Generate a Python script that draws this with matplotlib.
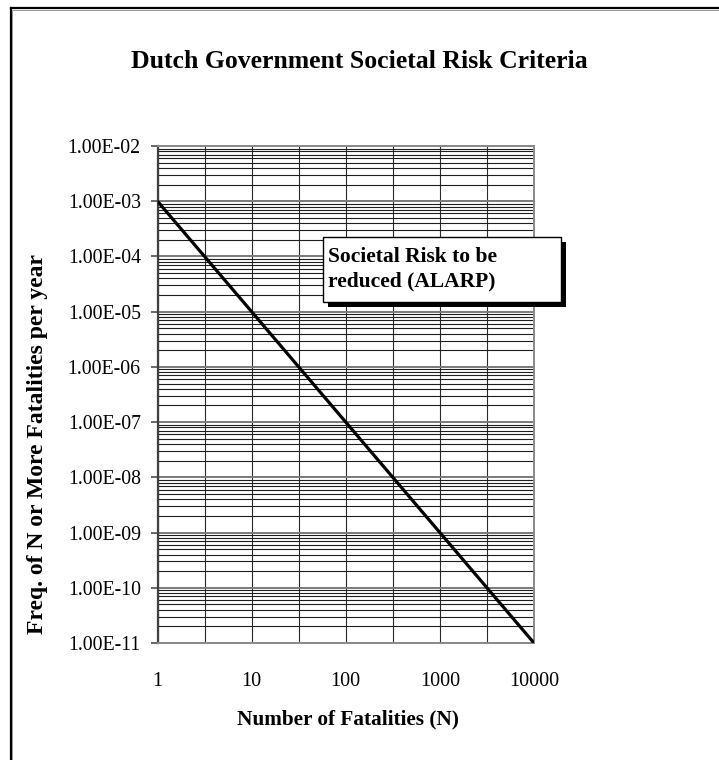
import numpy as np
import matplotlib
matplotlib.use("Agg")
import matplotlib.pyplot as plt
from matplotlib.ticker import FixedLocator, FuncFormatter, NullFormatter
from matplotlib.patches import Rectangle

# Societal risk limit line (F-N curve)
fatalities = [1, 10, 100, 1000, 10000]
frequency = [1e-3, 1e-5, 1e-7, 1e-9, 1e-11]

x_ticks = [1, 10, 100, 1000, 10000]
x_tick_labels = ["1", "10", "100", "1000", "10000"]
y_ticks = [1e-11, 1e-10, 1e-9, 1e-8, 1e-7, 1e-6, 1e-5, 1e-4, 1e-3, 1e-2]

title = "Dutch Government Societal Risk Criteria"
x_label = "Number of Fatalities (N)"
y_label = "Freq. of N or More Fatalities per year"
note = "Societal Risk to be\nreduced (ALARP)"

plt.rcParams["font.family"] = ["Liberation Serif", "DejaVu Serif"]

W, H = 719, 760
fig = plt.figure(figsize=(W / 100, H / 100), dpi=100)
fig.patch.set_facecolor("white")


def fx(px):
    return px / W


def fy(py):
    return (H - py) / H


# Outer chart frame (left and top edges visible)
fig.add_artist(plt.Line2D([fx(10.5), fx(10.5)], [fy(8), fy(790)], color="black", lw=1.6))
fig.add_artist(plt.Line2D([fx(10.5), fx(760)], [fy(8), fy(8)], color="black", lw=1.6))
fig.add_artist(plt.Line2D([fx(12.3), fx(12.3)], [fy(10), fy(790)], color="#9a9a9a", lw=0.7))
fig.add_artist(plt.Line2D([fx(12.3), fx(760)], [fy(9.8), fy(9.8)], color="#9a9a9a", lw=0.7))

left, right, top, bottom = 157.5, 534.0, 146.0, 643.0
ax = fig.add_axes([fx(left), fy(bottom), fx(right - left), (bottom - top) / H])
ax.set_xscale("log")
ax.set_yscale("log")
ax.set_xlim(1, 10000)
ax.set_ylim(1e-11, 1e-2)

ax.plot(fatalities, frequency, color="black", lw=2.3, solid_capstyle="butt", zorder=5)

# Ticks and labels
ax.xaxis.set_major_locator(FixedLocator(x_ticks))
ax.xaxis.set_major_formatter(FuncFormatter(lambda v, p: x_tick_labels[x_ticks.index(v)] if v in x_ticks else ""))
ax.xaxis.set_minor_locator(FixedLocator([10 ** (k + 0.5) for k in range(4)]))
ax.xaxis.set_minor_formatter(NullFormatter())

ax.yaxis.set_major_locator(FixedLocator(y_ticks))
ax.yaxis.set_major_formatter(FuncFormatter(lambda v, p: f"{v:.2E}"))
y_minor = [m * d for d in y_ticks[:-1] for m in range(2, 10)]
ax.yaxis.set_minor_locator(FixedLocator(y_minor))
ax.yaxis.set_minor_formatter(NullFormatter())

ax.tick_params(axis="x", which="both", length=0, pad=21, labelsize=14.5)
ax.tick_params(axis="y", which="major", length=5, width=1.2, color="#505050",
               direction="out", pad=7, labelsize=14.3)
ax.tick_params(axis="y", which="minor", length=0)

# Grid
ax.grid(True, axis="x", which="both", color="#2a2a2a", lw=0.8)
ax.grid(True, axis="y", which="minor", color="#1e1e1e", lw=0.8)
ax.grid(True, axis="y", which="major", color="#7a7a7a", lw=1.4)
ax.set_axisbelow(True)

for s in ax.spines.values():
    s.set_color("#8a8a8a")
    s.set_linewidth(1.4)
ax.spines["left"].set_color("#404040")
ax.spines["left"].set_linewidth(1.6)

# Titles
fig.text(0.5, fy(62), title, ha="center", va="center", fontsize=18.5, fontweight="bold")
fig.text(fx(348), fy(719), x_label, ha="center", va="center", fontsize=15.3, fontweight="bold")
fig.text(fx(38), fy(444), y_label, ha="center", va="center", rotation=90,
         fontsize=17, fontweight="bold")

# Annotation box with drop shadow
bx0, by0, bx1, by1 = 322.7, 236.7, 561.0, 302.0
fig.add_artist(Rectangle((fx(bx0 + 5), fy(by1 + 5)), fx(bx1 - bx0), (by1 - by0) / H,
                         facecolor="black", edgecolor="black", lw=0, zorder=10))
fig.add_artist(Rectangle((fx(bx0), fy(by1)), fx(bx1 - bx0), (by1 - by0) / H,
                         facecolor="white", edgecolor="black", lw=1.0, zorder=11))
fig.text(fx(328), fy(269.5), note, ha="left", va="center", fontsize=15.5,
         fontweight="bold", linespacing=1.3, zorder=12)

fig.savefig("out.png", dpi=100, facecolor="white")
